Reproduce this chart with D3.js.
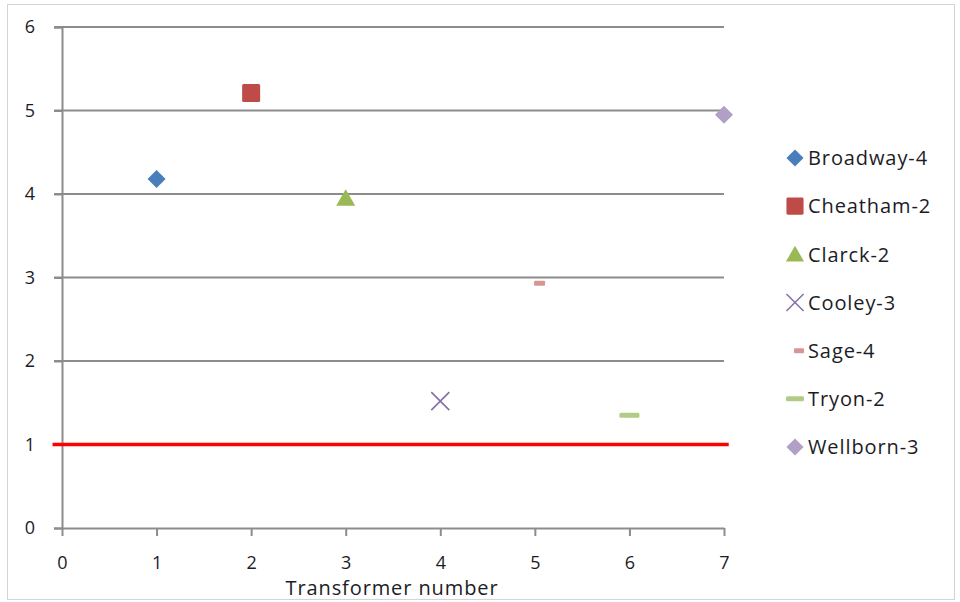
<!DOCTYPE html>
<html>
<head>
<meta charset="utf-8">
<script src="https://cdn.jsdelivr.net/npm/d3@7"></script>
<style>
  html, body { margin: 0; padding: 0; background: #fff; }
  svg { display: block; font-family: "Open Sans", Lato, sans-serif; }
</style>
</head>
<body>
<svg id="chart" width="960" height="602"></svg>
<script>
// Transformer readings, one point per transformer
const names    = ["Broadway-4", "Cheatham-2", "Clarck-2", "Cooley-3", "Sage-4", "Tryon-2", "Wellborn-3"];
const xValues  = [1, 2, 3, 4, 5.05, 6, 7];
const yValues  = [4.18, 5.21, 3.95, 1.52, 2.93, 1.35, 4.95];
const markers  = ["diamond", "square", "triangle", "cross", "dashSmall", "dashWide", "diamond"];
const colors   = ["#4A7EBB", "#BE4B48", "#98B954", "#8470A8", "#D89593", "#B2CB84", "#B1A0C6"];
const xTicks   = [0, 1, 2, 3, 4, 5, 6, 7];
const yTicks   = [0, 1, 2, 3, 4, 5, 6];
const limitX   = [-0.1, 7.05];
const limitY   = [1, 1];
const xTitle   = "Transformer number";

const textColor = "#1c1c26";
const svg = d3.select("#chart");

// outer frame
svg.append("rect").attr("x", 7.5).attr("y", 4.5).attr("width", 947).attr("height", 595)
  .attr("fill", "none").attr("stroke", "#d4d4d4").attr("stroke-width", 1);

const x = d3.scaleLinear().domain([0, 7]).range([62, 724]);
const y = d3.scaleLinear().domain([0, 6]).range([528, 27]);

// horizontal gridlines
svg.append("g").selectAll("line").data(yTicks.filter(d => d > 0)).join("line")
  .attr("x1", x(0) - 8).attr("x2", x(7))
  .attr("y1", d => y(d)).attr("y2", d => y(d))
  .attr("stroke", "#8c8c8c").attr("stroke-width", 2);

// y axis
const yAxis = svg.append("g").attr("transform", `translate(${x(0)},0)`)
  .call(d3.axisLeft(y).tickValues(yTicks).tickSize(8).tickPadding(19).tickFormat(d3.format("d")));
yAxis.select(".domain").attr("stroke", "#8c8c8c").attr("stroke-width", 2);
yAxis.selectAll(".tick line").attr("stroke", "#8c8c8c").attr("stroke-width", 2);
yAxis.selectAll(".tick text").attr("font-size", 18).attr("fill", textColor)
  .attr("font-family", "'Open Sans', sans-serif");

// x axis
const xAxis = svg.append("g").attr("transform", `translate(0,${y(0)})`)
  .call(d3.axisBottom(x).tickValues(xTicks).tickSize(8).tickSizeOuter(0).tickPadding(20).tickFormat(d3.format("d")));
xAxis.select(".domain").attr("stroke", "#8c8c8c").attr("stroke-width", 2);
xAxis.selectAll(".tick line").attr("stroke", "#8c8c8c").attr("stroke-width", 2);
xAxis.selectAll(".tick text").attr("font-size", 18).attr("fill", textColor)
  .attr("font-family", "'Open Sans', sans-serif");

svg.append("text").attr("x", 392).attr("y", 595)
  .attr("text-anchor", "middle").attr("font-size", 20).attr("letter-spacing", 0.9)
  .attr("fill", textColor).text(xTitle);

// limit line at 1
svg.append("path")
  .datum(limitX.map((d, i) => [d, limitY[i]]))
  .attr("d", d3.line().x(d => x(d[0])).y(d => y(d[1])))
  .attr("stroke", "#FF0000").attr("stroke-width", 3.5).attr("fill", "none");

// marker drawing
function drawMarker(g, type, color) {
  if (type === "diamond") {
    g.append("path").attr("d", "M0,-9L9,0L0,9L-9,0Z").attr("fill", color);
  } else if (type === "square") {
    g.append("rect").attr("x", -9).attr("y", -9).attr("width", 18).attr("height", 18).attr("rx", 1.5).attr("fill", color);
  } else if (type === "triangle") {
    g.append("path").attr("d", "M0,-9L9.5,7.5L-9.5,7.5Z").attr("fill", color);
  } else if (type === "cross") {
    g.append("path").attr("d", "M-9,-9L9,9M9,-9L-9,9").attr("stroke", color).attr("stroke-width", 1.6).attr("fill", "none");
  } else if (type === "dashSmall") {
    g.append("rect").attr("x", -5.5).attr("y", -2.5).attr("width", 11).attr("height", 5).attr("rx", 1).attr("fill", color);
  } else if (type === "dashWide") {
    g.append("rect").attr("x", -10).attr("y", -2.5).attr("width", 20).attr("height", 5).attr("rx", 1.5).attr("fill", color);
  }
}

// data points
names.forEach((n, i) => {
  const g = svg.append("g").attr("transform", `translate(${x(xValues[i])},${y(yValues[i])})`);
  drawMarker(g, markers[i], colors[i]);
});

// legend
const legendRow = d3.scaleLinear().domain([0, names.length - 1]).range([158, 447]);
names.forEach((n, i) => {
  const cy = legendRow(i);
  const g = svg.append("g").attr("transform", `translate(795,${cy})`);
  if (markers[i] === "dashSmall") {
    g.append("rect").attr("x", -1).attr("y", -2.5).attr("width", 10).attr("height", 5).attr("rx", 1).attr("fill", colors[i]);
  } else if (markers[i] === "dashWide") {
    g.append("rect").attr("x", -9).attr("y", -2.5).attr("width", 18).attr("height", 5).attr("rx", 1.5).attr("fill", colors[i]);
  } else {
    const s = svg.append("g").attr("transform", `translate(795,${cy}) scale(0.95)`);
    drawMarker(s, markers[i], colors[i]);
  }
  svg.append("text").attr("x", 808).attr("y", cy).attr("dy", "0.36em")
    .attr("font-size", 20).attr("letter-spacing", 0.9)
    .attr("fill", textColor).text(n);
});
</script>
</body>
</html>
